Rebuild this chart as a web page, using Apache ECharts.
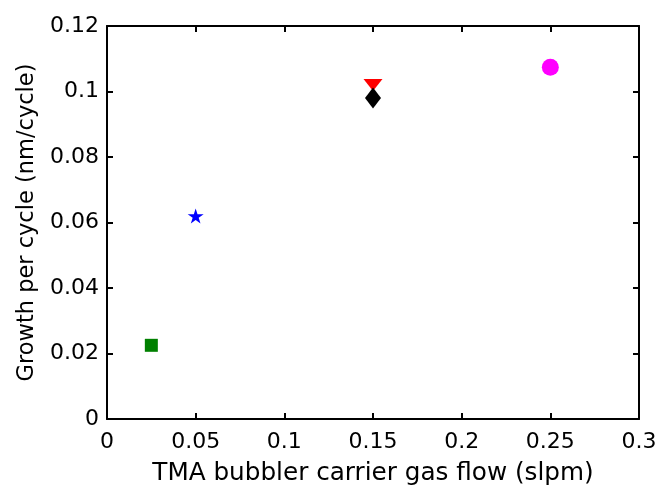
<!DOCTYPE html>
<html><head><meta charset="utf-8">
<script src="https://cdn.jsdelivr.net/npm/echarts@6/dist/echarts.min.js"></script>
<style>html,body{margin:0;padding:0;background:#fff}#c{width:659px;height:487px}</style>
</head><body><div id="c"></div>
<script>
const xTicks = [0, 0.05, 0.1, 0.15, 0.2, 0.25, 0.3];
const yTicks = [0, 0.02, 0.04, 0.06, 0.08, 0.1, 0.12];
const pointNames = ['square', 'star', 'triangle', 'diamond', 'circle'];
const flowX = [0.025, 0.05, 0.15, 0.15, 0.25];
const gpcY = [0.0225, 0.062, 0.102, 0.098, 0.1074];

const styles = {
  square: {symbol: 'rect', size: [13, 13], color: '#008000'},
  star: {symbol: 'path://M50,0 L61,35 L98,35 L68,57 L79,91 L50,70 L21,91 L32,57 L2,35 L39,35 Z', size: [16, 15], color: '#0000ff'},
  triangle: {symbol: 'triangle', size: [19, 12], color: '#ff0000', rotate: 180},
  diamond: {symbol: 'diamond', size: [16, 21], color: '#000000'},
  circle: {symbol: 'circle', size: 17, color: '#ff00ff'}
};

const font = 'DejaVu Sans, Liberation Sans, Arial, sans-serif';
function axisBase(extra) {
  const base = {
    min: 0, axisLine: {show: true, onZero: false, lineStyle: {color: '#000', width: 2}},
    axisTick: {show: true, inside: true, length: 6, lineStyle: {color: '#000', width: 2}},
    splitLine: {show: false}
  };
  return Object.assign(base, extra);
}
const xMax = xTicks[xTicks.length - 1], xStep = xTicks[1] - xTicks[0];
const yMax = yTicks[yTicks.length - 1], yStep = yTicks[1] - yTicks[0];
const chart = echarts.init(document.getElementById('c'));
chart.setOption({
  animation: false,
  backgroundColor: '#fff',
  grid: {left: 107, right: 20, top: 26, bottom: 68, containLabel: false, outerBoundsMode: 'none'},
  xAxis: [
    axisBase({type: 'value', max: xMax, interval: xStep, position: 'bottom',
      name: 'TMA bubbler carrier gas flow (slpm)', nameLocation: 'middle', nameGap: 42,
      nameTextStyle: {fontFamily: font, fontSize: 24.7, color: '#000'},
      axisLabel: {fontFamily: font, fontSize: 22, color: '#000', margin: 12}}),
    axisBase({type: 'value', max: xMax, interval: xStep, position: 'top', axisLabel: {show: false}})
  ],
  yAxis: [
    axisBase({type: 'value', max: yMax, interval: yStep, position: 'left',
      name: 'Growth per cycle (nm/cycle)', nameLocation: 'middle', nameGap: 67,
      nameTextStyle: {fontFamily: font, fontSize: 22.5, color: '#000'},
      axisLabel: {fontFamily: font, fontSize: 22, color: '#000', margin: 8}}),
    axisBase({type: 'value', max: yMax, interval: yStep, position: 'right', axisLabel: {show: false}})
  ],
  series: pointNames.map((n, i) => ({
    type: 'scatter', xAxisIndex: 0, yAxisIndex: 0,
    symbol: styles[n].symbol, symbolSize: styles[n].size, symbolRotate: styles[n].rotate || 0,
    itemStyle: {color: styles[n].color, opacity: 1},
    data: [[flowX[i], gpcY[i]]], z: 2 + i
  }))
});
</script></body></html>
